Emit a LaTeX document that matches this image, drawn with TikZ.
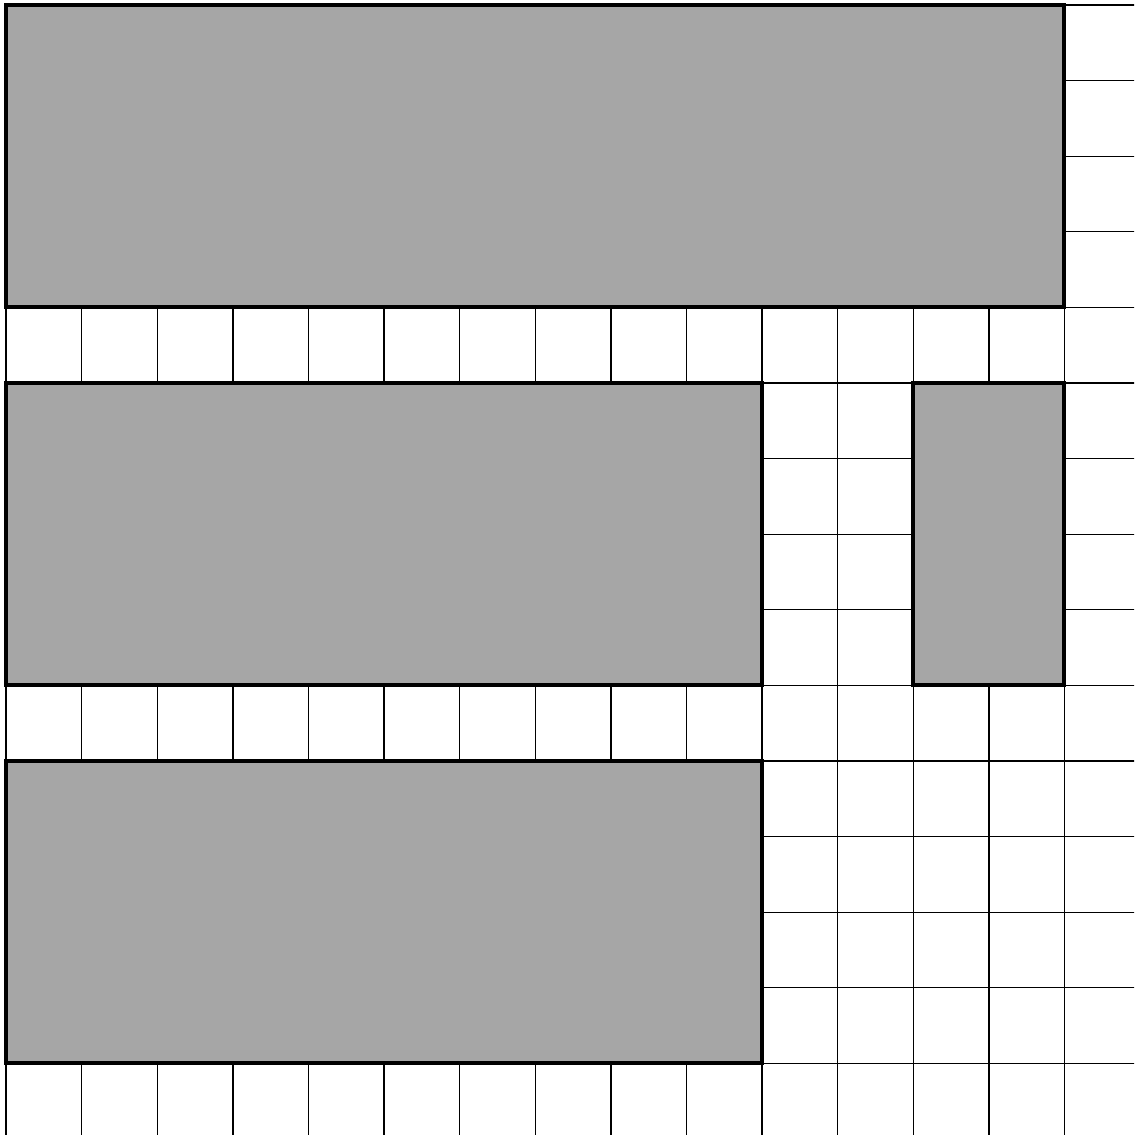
\documentclass[tikz,border=0pt]{standalone}
\usepackage{tikz}
\usetikzlibrary{positioning}
\definecolor{blockgray}{HTML}{A6A6A6}

\begin{document}
\begin{tikzpicture}[x=1cm, y=1cm,
  gridline/.style={black, line width=0.5pt},
  block/.style={fill=blockgray, draw=black, line width=1.5pt}]

% Frame
\useasboundingbox (-0.08,0.053) rectangle (14.92,15.066);
\clip (-0.08,0.053) rectangle (14.92,15.066);

% Background grid
\foreach \x in {0,...,15} {
  \draw[gridline] (\x,0) -- (\x,15);
}
\foreach \y in {0,...,15} {
  \draw[gridline] (0,\y) -- (15,\y);
}

% Blocks
\draw[block] (0,11) rectangle (14,15);
\draw[block] (0,6) rectangle (10,10);
\draw[block] (12,6) rectangle (14,10);
\draw[block] (0,1) rectangle (10,5);

\end{tikzpicture}
\end{document}
